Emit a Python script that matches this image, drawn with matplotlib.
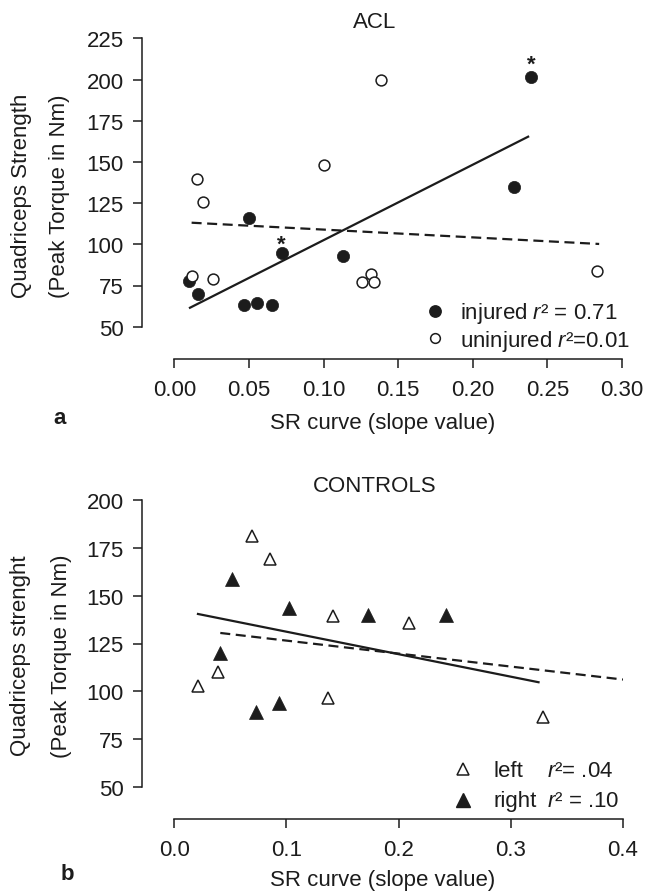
import numpy as np
import matplotlib.pyplot as plt

plt.rcParams['font.family'] = ['Liberation Sans', 'DejaVu Sans']
plt.rcParams['mathtext.fontset'] = 'custom'
plt.rcParams['mathtext.rm'] = 'Liberation Sans'
plt.rcParams['mathtext.it'] = 'Liberation Sans:italic'

INK = '#1c1c1c'
FS = 16

# panel a - ACL
acl_inj_x = [0.0100, 0.0161, 0.0469, 0.0556, 0.0652, 0.0502, 0.0719, 0.1131, 0.2278, 0.2390]
acl_inj_y = [77.9, 70.0, 63.2, 64.6, 63.0, 116.0, 94.9, 92.7, 134.6, 201.5]
acl_uninj_x = [0.0116, 0.0152, 0.0194, 0.0257, 0.1000, 0.1388, 0.1256, 0.1317, 0.1335, 0.2833]
acl_uninj_y = [80.6, 139.4, 125.7, 78.9, 148.1, 199.9, 77.3, 82.0, 77.1, 83.8]
acl_fit_inj_x = [0.0105, 0.2371]
acl_fit_inj_y = [61.5, 165.3]
acl_fit_uninj_x = [0.0116, 0.2847]
acl_fit_uninj_y = [113.1, 100.2]
acl_starred = [6, 9]
acl_xticks = [0.00, 0.05, 0.10, 0.15, 0.20, 0.25, 0.30]
acl_yticks = [50, 75, 100, 125, 150, 175, 200, 225]

# panel b - controls
ctl_left_x = [0.0211, 0.0389, 0.0695, 0.0856, 0.1412, 0.1373, 0.2092, 0.3288]
ctl_left_y = [102.7, 110.3, 181.0, 169.2, 139.2, 96.4, 135.8, 86.5]
ctl_right_x = [0.0410, 0.0514, 0.0728, 0.0936, 0.1025, 0.1723, 0.2426]
ctl_right_y = [120.1, 158.4, 89.5, 93.8, 143.4, 139.9, 139.9]
ctl_fit_left_x = [0.0211, 0.3247]
ctl_fit_left_y = [140.4, 104.8]
ctl_fit_right_x = [0.0410, 0.400]
ctl_fit_right_y = [130.5, 106.2]
ctl_xticks = [0.0, 0.1, 0.2, 0.3, 0.4]
ctl_yticks = [50, 75, 100, 125, 150, 175, 200]

W, H = 645, 895


def fx(px):
    return px / W


def fy(py):
    return 1 - py / H


def style_axes(ax, xticks, yticks, xfmt):
    ax.set_xlim(xticks[0], xticks[-1])
    ax.set_ylim(yticks[0], yticks[-1])
    ax.set_xticks(xticks)
    ax.set_xticklabels([xfmt.format(v) for v in xticks])
    ax.set_yticks(yticks)
    for s in ['top', 'right']:
        ax.spines[s].set_visible(False)
    for s in ['left', 'bottom']:
        ax.spines[s].set_position(('outward', 23))
        ax.spines[s].set_linewidth(1.1)
        ax.spines[s].set_color(INK)
    ax.tick_params(axis='both', length=6.5, width=1.1, color=INK,
                   labelsize=FS, labelcolor=INK)
    ax.tick_params(axis='x', pad=8)
    ax.tick_params(axis='y', pad=7)
    ax.patch.set_alpha(0)


fig = plt.figure(figsize=(W / 100, H / 100), dpi=100)

# ---- panel a
ax1 = fig.add_axes([fx(174.3), fy(327.7), (622 - 174.3) / W, (327.7 - 39.3) / H])
style_axes(ax1, acl_xticks, acl_yticks, '{:.2f}')
ax1.plot(acl_fit_inj_x, acl_fit_inj_y, color=INK, lw=1.6)
ax1.plot(acl_fit_uninj_x, acl_fit_uninj_y, color=INK, lw=1.6, dashes=(4.5, 2.5))
ax1.plot(acl_inj_x, acl_inj_y, 'o', ms=8.8, mfc=INK, mec=INK, mew=0.5, clip_on=False)
ax1.plot(acl_uninj_x, acl_uninj_y, 'o', ms=7.8, mfc='white', mec=INK, mew=1.1, clip_on=False)
star_offsets = [2, 5.5]
for i, off in zip(acl_starred, star_offsets):
    ax1.annotate('*', (acl_inj_x[i], acl_inj_y[i]), xytext=(0, off),
                 textcoords='offset points', ha='center', va='baseline',
                 fontsize=FS, fontweight='bold', color=INK)

# legend a
fig.lines.append(plt.Line2D([fx(435)], [fy(312.3)], marker='o', ms=8.2, mfc=INK,
                            mec=INK, ls='none', transform=fig.transFigure))
fig.lines.append(plt.Line2D([fx(435)], [fy(339.3)], marker='o', ms=7.0, mfc='white',
                            mec=INK, mew=1.1, ls='none', transform=fig.transFigure))
fig.text(fx(460), fy(319.3), 'injured $r$\u00b2 = 0.71', fontsize=FS, color=INK, va='baseline')
fig.text(fx(460), fy(346.7), 'uninjured $r$\u00b2=0.01', fontsize=FS, color=INK, va='baseline')

fig.text(fx(374.7), fy(22.5), 'ACL', fontsize=FS, color=INK, ha='center', va='center')
fig.text(fx(383), fy(424), 'SR curve (slope value)', fontsize=FS, color=INK,
         ha='center', va='center')
fig.text(fx(21.7), fy(196), 'Quadriceps Strength', fontsize=FS, color=INK,
         ha='center', va='center', rotation=90)
fig.text(fx(60), fy(196), '(Peak Torque in Nm)', fontsize=FS, color=INK,
         ha='center', va='center', rotation=90)
fig.text(fx(60), fy(418), 'a', fontsize=FS, fontweight='bold', color=INK,
         ha='center', va='center')

# ---- panel b
ax2 = fig.add_axes([fx(174.3), fy(788.3), (623 - 174.3) / W, (788.3 - 500.7) / H])
style_axes(ax2, ctl_xticks, ctl_yticks, '{:.1f}')
ax2.plot(ctl_fit_left_x, ctl_fit_left_y, color=INK, lw=1.6)
ax2.plot(ctl_fit_right_x, ctl_fit_right_y, color=INK, lw=1.6, dashes=(4.5, 2.5))
ax2.plot(ctl_left_x, ctl_left_y, '^', ms=9, mfc='white', mec=INK, mew=1.1, clip_on=False)
ax2.plot(ctl_right_x, ctl_right_y, '^', ms=9.6, mfc=INK, mec=INK, mew=0.5, clip_on=False)

# legend b
fig.lines.append(plt.Line2D([fx(463.3)], [fy(770)], marker='^', ms=9, mfc='white',
                            mec=INK, mew=1.1, ls='none', transform=fig.transFigure))
fig.lines.append(plt.Line2D([fx(463.3)], [fy(800.7)], marker='^', ms=9.6, mfc=INK,
                            mec=INK, ls='none', transform=fig.transFigure))
fig.text(fx(493.3), fy(776.7), 'left', fontsize=FS, color=INK, va='baseline')
fig.text(fx(546.7), fy(776.7), '$r$\u00b2= .04', fontsize=FS, color=INK, va='baseline')
fig.text(fx(493.3), fy(806.7), 'right', fontsize=FS, color=INK, va='baseline')
fig.text(fx(546.7), fy(806.7), '$r$\u00b2 = .10', fontsize=FS, color=INK, va='baseline')

fig.text(fx(374.7), fy(486.7), 'CONTROLS', fontsize=FS, color=INK, ha='center', va='center')
fig.text(fx(383), fy(881), 'SR curve (slope value)', fontsize=FS, color=INK,
         ha='center', va='center')
fig.text(fx(20.5), fy(655.8), 'Quadriceps strenght', fontsize=FS, color=INK,
         ha='center', va='center', rotation=90)
fig.text(fx(61.6), fy(655.8), '(Peak Torque in Nm)', fontsize=FS, color=INK,
         ha='center', va='center', rotation=90)
fig.text(fx(67), fy(875), 'b', fontsize=FS, fontweight='bold', color=INK,
         ha='center', va='center')

fig.savefig('out.png', dpi=100)
